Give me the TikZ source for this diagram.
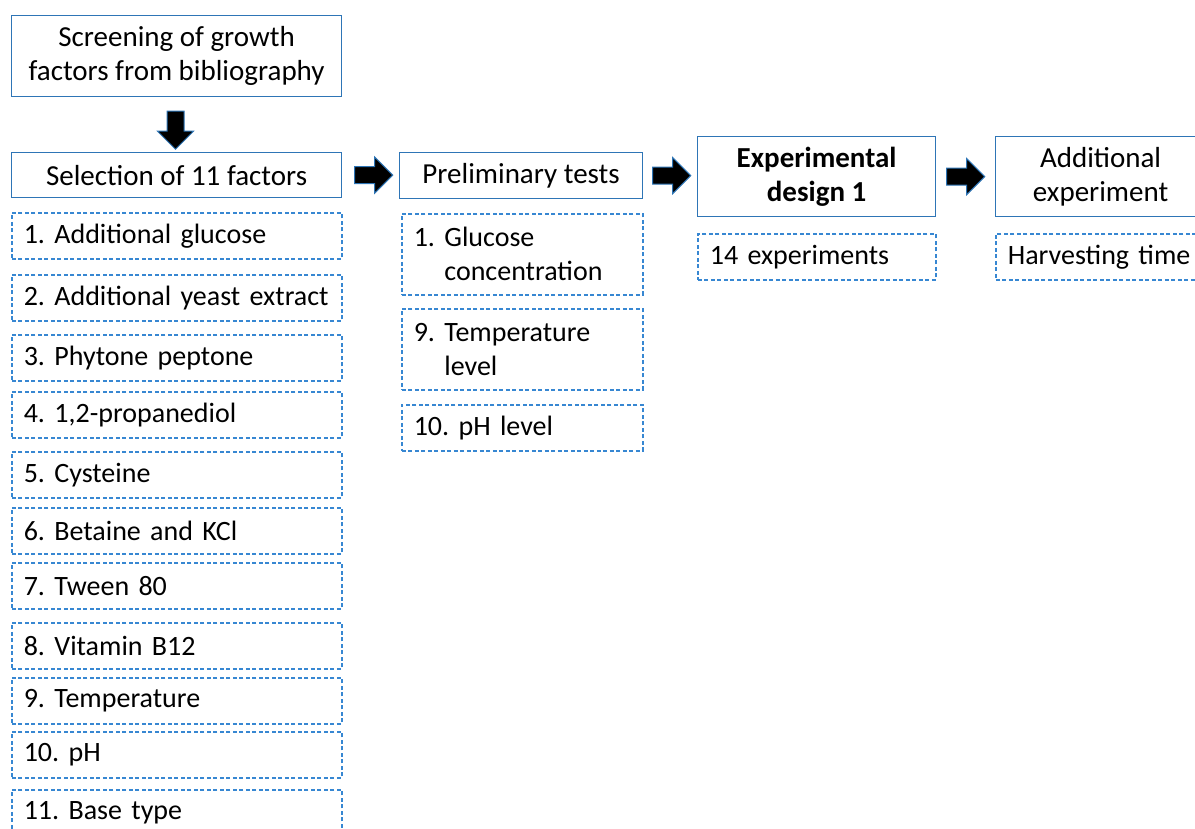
\documentclass[tikz,border=0pt]{standalone}
\usepackage{fontspec}
\setmainfont{Carlito}
\usepackage{tikz}
\usetikzlibrary{positioning, shapes.arrows}

\definecolor{boxblue}{RGB}{46,117,182}
\definecolor{listblue}{RGB}{55,135,210}

\begin{document}
\frenchspacing
\begin{tikzpicture}[
        x=1pt,
        y=-1pt,
        font=\fontsize{29}{34}\selectfont,
        stepbox/.style={draw=boxblue, line width=1.2pt, align=center, inner sep=0pt, anchor=north west},
        factor/.style={draw=listblue, line width=1.6pt, dash pattern=on 4pt off 2.5pt,
            font=\fontsize{28}{34}\selectfont,
            anchor=north west, align=left, inner xsep=12pt, inner ysep=0pt, minimum height=46pt},
        blockarrow/.style={single arrow, draw=boxblue, fill=black, line width=1pt,
            inner xsep=0pt, inner ysep=8pt, minimum height=38pt, single arrow head extend=9.5pt}
        ]
            \useasboundingbox (0,0) rectangle (1195,829);

            % main steps
            \node[stepbox, minimum width=330pt, minimum height=81pt] (SCREEN) at (11,15) {Screening of growth\\factors from bibliography};
            \node[stepbox, minimum width=330pt, minimum height=45pt] (SELECT) at (11,152) {Selection of 11 factors};
            \node[stepbox, minimum width=243pt, minimum height=46pt] (PRELIM) at (399,152) {Preliminary tests};
            \node[stepbox, minimum width=238pt, minimum height=80pt, font=\fontsize{29}{34}\selectfont\bfseries] (DESIGN) at (697,136) {Experimental\\design 1};
            \node[stepbox, minimum width=210pt, minimum height=80pt] (EXTRA) at (995,136) {Additional\\experiment};

            % block arrows
            \node[blockarrow, rotate=-90] (DOWN) at (175.5,126) {};
            \node[blockarrow, right=12pt of SELECT] (TOPRELIM) {};
            \node[blockarrow, right=9pt of PRELIM] (TODESIGN) {};
            \node[blockarrow, right=10pt of DESIGN] (TOEXTRA) {};

            % list of factors
            \foreach \i/\top/\txt in {
                    1/212/{1. Additional glucose},
                    2/274/{2. Additional yeast extract},
                    3/334/{3. Phytone peptone},
                    4/391/{4. 1,2-propanediol},
                    5/451/{5. Cysteine},
                    6/507/{6. Betaine and KCl},
                    7/562/{7. Tween 80},
                    8/622/{8. Vitamin B12},
                    9/677/{9. Temperature},
                    10/731/{10. pH},
                    11/789/{11. Base type}}
                \node[factor, text width=306pt] (F\i) at (11,\top) {\mbox{\txt}};

            % preliminary tests
            \node[factor, text width=217pt, minimum height=81pt] (PGLU) at (401,213) {1. Glucose\\\phantom{1. }concentration};
            \node[factor, text width=217pt, minimum height=81pt] (PTEMP) at (401,308) {9. Temperature\\\phantom{9. }level};
            \node[factor, text width=217pt] (PPH) at (401,404) {10. pH level};

            % designs
            \node[factor, text width=214pt] (RUNS) at (697,233) {14 experiments};
            \node[factor, text width=206pt] (HARVEST) at (995,233) {\mbox{Harvesting time}};
        \end{tikzpicture}
\end{document}
